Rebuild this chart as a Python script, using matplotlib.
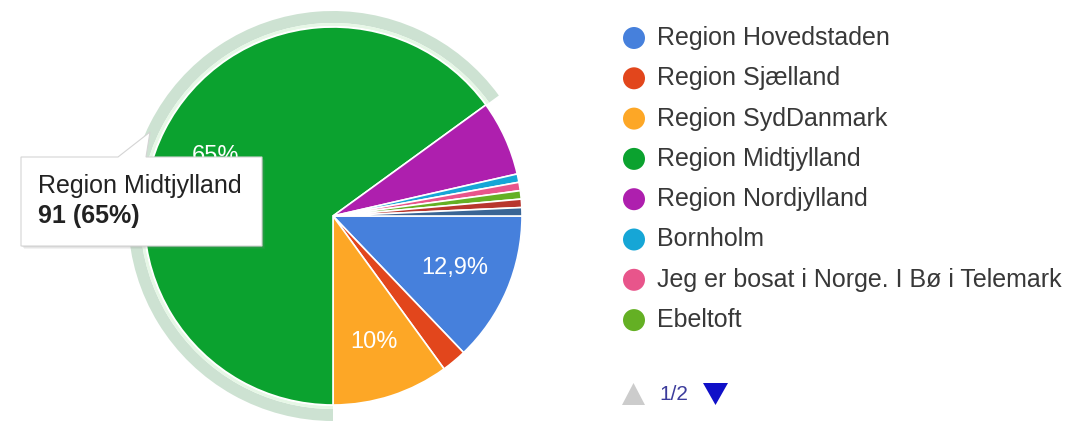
import numpy as np
import matplotlib
matplotlib.use('Agg')
import matplotlib.pyplot as plt
from matplotlib.patches import Wedge, Circle, Polygon, FancyBboxPatch

# survey answers (counts), order as in the legend / drawing order
regions = ['Region Hovedstaden', 'Region Sjælland', 'Region SydDanmark',
           'Region Midtjylland', 'Region Nordjylland', 'Bornholm',
           'Jeg er bosat i Norge. I Bø i Telemark', 'Ebeltoft',
           'Andet (side 2)', 'Andet (side 2) ']
counts = [18, 3, 14, 91, 9, 1, 1, 1, 1, 1]
colors = ['#4680dc', '#e2461c', '#fda726', '#0ba22f', '#ae1fae',
          '#16a6d6', '#e8558b', '#64b024', '#b8362e', '#3a6595']
legend_shown = 8
page_label = '1/2'
hover_index = 3

W, H = 1088, 422
plt.rcParams['font.family'] = ['Liberation Sans', 'DejaVu Sans']

fig = plt.figure(figsize=(W / 100, H / 100), dpi=100)
ax = fig.add_axes([0, 0, 1, 1])


def Y(y):
	# image-style y (top = 0) to axes y
	return H - y


cx, cy, r = 333, Y(216), 189
wedges, _ = ax.pie(counts, colors=colors, startangle=0, counterclock=False,
                   radius=r, center=(cx, cy), frame=True,
                   wedgeprops=dict(edgecolor='white', linewidth=1.2))

# hover halo around the highlighted slice
hw = wedges[hover_index]
ax.add_patch(Wedge((cx, cy), r + 16, hw.theta1, hw.theta2, width=12,
                   facecolor='#cde2d2', edgecolor='none', zorder=0))
ax.add_patch(Wedge((cx, cy), r + 4, hw.theta1, hw.theta2, width=3,
                   facecolor='#e6f7e6', edgecolor='none', zorder=0))

# percent labels inside big slices
total = float(sum(counts))
for w, c in zip(wedges, counts):
	frac = c / total
	if frac < 0.1:
		continue
	mid = np.deg2rad(0.5 * (w.theta1 + w.theta2))
	txt = f'{100 * frac:.1f}'.rstrip('0').rstrip('.').replace('.', ',') + '%'
	ax.text(cx + 0.7 * r * np.cos(mid), cy + 0.7 * r * np.sin(mid), txt,
	        color='white', fontsize=17, ha='center', va='center', zorder=3)

# tooltip (soft shadow, then the box with its tail)
for k, a in enumerate([0.10, 0.12, 0.15]):
	off = 3 - k
	ax.add_patch(FancyBboxPatch((21 + off, Y(246 + off)), 241, 89,
	                            boxstyle='square,pad=0', facecolor='#888888',
	                            edgecolor='none', alpha=a, zorder=4))
ax.add_patch(Polygon([(21, Y(157)), (118, Y(157)), (150, Y(132)), (146, Y(157)),
                      (262, Y(157)), (262, Y(246)), (21, Y(246))],
                     closed=True, facecolor='white', edgecolor='#d4d4d4',
                     linewidth=0.8, zorder=5))
pct = 100 * counts[hover_index] / total
ax.text(38, Y(186), regions[hover_index], fontsize=18, color='#222222',
        ha='left', va='center', zorder=6)
ax.text(38, Y(216), f'{counts[hover_index]} ({pct:.0f}%)', fontsize=18,
        fontweight='bold', color='#222222', ha='left', va='center', zorder=6)

# legend (first page)
for i in range(legend_shown):
	yy = Y(38 + i * 40.3)
	ax.add_patch(Circle((634, yy), 11, facecolor=colors[i], edgecolor='none'))
	ax.text(657, yy, regions[i], fontsize=18, color='#383838',
	        ha='left', va='center')

# pager
ax.add_patch(Polygon([(622, Y(405)), (645, Y(405)), (633.5, Y(383))],
                     closed=True, facecolor='#cccccc', edgecolor='none'))
ax.text(659, Y(394), page_label, fontsize=15, color='#3c3c9c',
        ha='left', va='center')
ax.add_patch(Polygon([(703, Y(383)), (728, Y(383)), (715.5, Y(405))],
                     closed=True, facecolor='#1010c8', edgecolor='none'))

ax.set_xlim(0, W)
ax.set_ylim(0, H)
ax.set_aspect('equal')
ax.axis('off')
fig.savefig('out.png', dpi=100)
